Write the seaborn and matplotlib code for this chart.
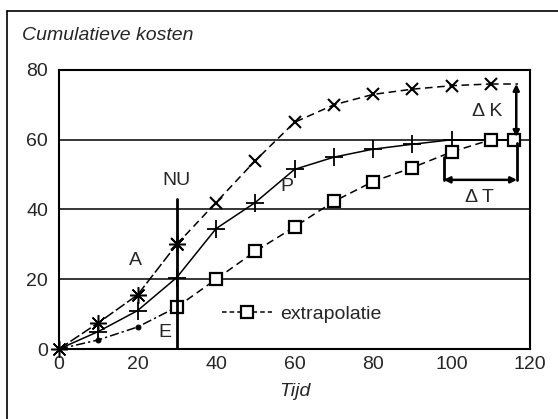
import numpy as np
import pandas as pd
import matplotlib
matplotlib.use("Agg")
import matplotlib.pyplot as plt
import seaborn as sns

# ------------------------------------------------------------
# data
# ------------------------------------------------------------
t_real = [0, 10, 20, 30]
a_real = [0, 7.5, 15.5, 30]          # A, actual (asterisk)
e_real = [0, 2.6, 6.3, 12]           # E, actual (dot)

t_p = [0, 10, 20, 30, 40, 50, 60, 70, 80, 90, 100]
p_vals = [0, 5, 11, 20.5, 34.5, 42, 51.5, 55, 57.3, 58.7, 60]   # P, planned (+)
t_p_end = [100, 117]
p_end = [60, 60]

t_a_ext = [30, 40, 50, 60, 70, 80, 90, 100, 110]
a_ext = [30, 42, 54, 65, 70, 73, 74.5, 75.5, 76]
t_a_tail = [110, 117]
a_tail = [76, 76]

t_e_ext = [30, 40, 50, 60, 70, 80, 90, 100, 110, 116]
e_ext = [12, 20, 28, 35, 42.3, 48, 52, 56.5, 60, 60]

x_ticks = [0, 20, 40, 60, 80, 100, 120]
y_ticks = [0, 20, 40, 60, 80]

sns.set_style("white")
plt.rcParams["font.family"] = ["Liberation Sans", "DejaVu Sans"]
plt.rcParams["font.size"] = 14
FS = 14

fig = plt.figure(figsize=(5.58, 4.19), dpi=100)
ax = fig.add_axes([59 / 558, 1 - 349 / 419, (530 - 59) / 558, (349 - 70) / 419])

# outer frame of the figure (only top and left visible)
fig.add_artist(plt.Line2D([7 / 558, 1], [1 - 11 / 419, 1 - 11 / 419], color="black", lw=1.2))
fig.add_artist(plt.Line2D([7 / 558, 7 / 558], [0, 1 - 11 / 419], color="black", lw=1.2))

# horizontal grid
for g in [20, 40, 60]:
    ax.axhline(g, color="black", lw=1.1, zorder=1)

ast = (8, 2, 0)
kw = dict(color="black", ax=ax, legend=False, sort=False, estimator=None, mec="black")

# A
sns.lineplot(x=t_real, y=a_real, linestyle=(0, (7, 2)), lw=1.1, marker=ast, ms=12, mew=1.1,
             clip_on=False, zorder=5, **kw)
sns.lineplot(x=t_a_ext, y=a_ext, linestyle=(0, (5, 3)), lw=1.1, marker="x", ms=9, mew=1.5, **kw)
sns.lineplot(x=t_a_tail, y=a_tail, linestyle=(0, (5, 3)), lw=1.1, **kw)
# P
sns.lineplot(x=t_p, y=p_vals, linestyle="-", lw=1.1, marker="+", ms=13, mew=1.3, **kw)
sns.lineplot(x=t_p_end, y=p_end, linestyle="-", lw=1.3, **kw)
# E
sns.lineplot(x=t_real, y=e_real, linestyle=(0, (6, 2, 1.5, 2)), lw=1.1, marker="o", ms=3.5, **kw)
sns.lineplot(x=t_e_ext, y=e_ext, linestyle=(0, (5, 3)), lw=1.1, marker="s", ms=9,
             mfc="white", mew=1.6, **kw)

# NU line
ax.plot([30, 30], [0, 43], color="black", lw=2, zorder=2)
ax.text(30, 46, "NU", ha="center", va="bottom", fontsize=FS)
ax.text(19.5, 25.5, "A", ha="center", va="center", fontsize=FS)
ax.text(58, 46.5, "P", ha="center", va="center", fontsize=FS)
ax.text(27, 4.8, "E", ha="center", va="center", fontsize=FS)

# delta K
ax.annotate("", xy=(116.5, 60.8), xytext=(116.5, 76),
            arrowprops=dict(arrowstyle="<|-|>", color="black", lw=1.8, mutation_scale=9, shrinkA=0, shrinkB=0))
ax.text(113, 68, "Δ K", ha="right", va="center", fontsize=FS)
# delta T
ax.plot([98, 98], [55, 48.5], color="black", lw=2)
ax.plot([116.7, 116.7], [59, 48.5], color="black", lw=2)
ax.annotate("", xy=(98, 48.5), xytext=(116.7, 48.5),
            arrowprops=dict(arrowstyle="<|-|>", color="black", lw=1.8, mutation_scale=9, shrinkA=0, shrinkB=0))
ax.text(107, 43.5, "Δ T", ha="center", va="center", fontsize=FS)

# legend
h = plt.Line2D([], [], color="black", linestyle=(0, (3, 2)), lw=1.1, marker="s", ms=9,
               mfc="white", mec="black", mew=1.6)
ax.legend([h], ["extrapolatie"], loc="center left", bbox_to_anchor=(0.325, 0.125),
          frameon=False, handlelength=2.6, handletextpad=0.4, borderpad=0, fontsize=FS)

ax.set_xlim(0, 120)
ax.set_ylim(0, 80)
ax.set_xticks(x_ticks)
ax.set_yticks(y_ticks)
ax.tick_params(axis="x", direction="in", length=8, width=1, pad=5, labelsize=FS)
ax.tick_params(axis="y", length=0, pad=8, labelsize=FS)
for s in ax.spines.values():
    s.set_color("black")
    s.set_linewidth(1.5)
ax.set_xlabel("Tijd", style="italic", fontsize=FS, labelpad=7)
fig.text(22 / 558, 1 - 35 / 419, "Cumulatieve kosten", style="italic", fontsize=FS, va="center")

fig.savefig("out.png", dpi=100)
